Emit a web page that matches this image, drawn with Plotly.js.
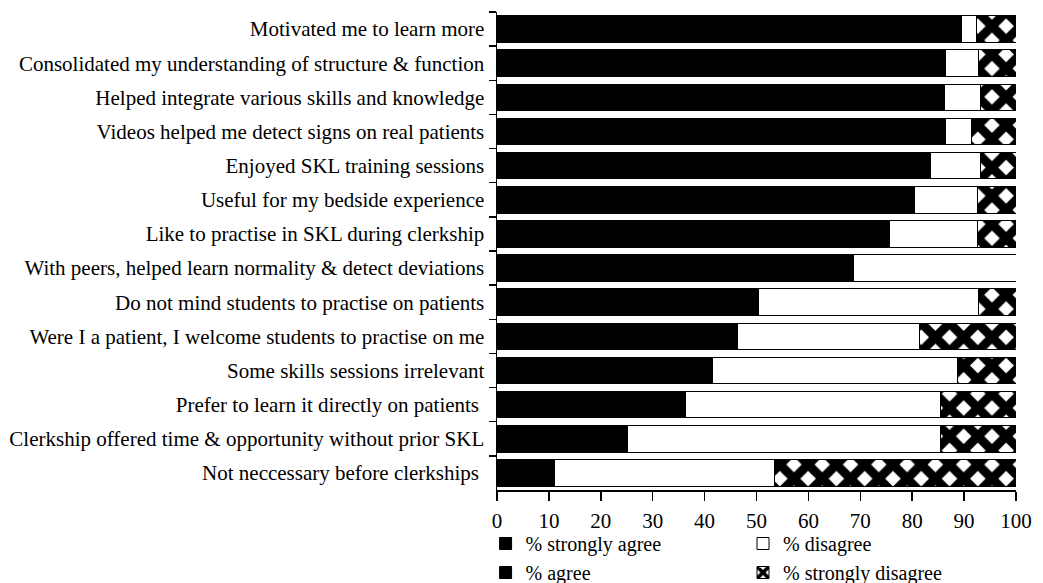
<!DOCTYPE html>
<html>
<head>
<meta charset="utf-8">
<script src="https://cdn.plot.ly/plotly-3.0.1.min.js"></script>
<style>html,body{margin:0;padding:0;background:#fff;}#chart{width:1043px;height:583px;}</style>
</head>
<body>
<div id="chart"></div>
<script>
const statements = [
  "Motivated me to learn more",
  "Consolidated my understanding of structure & function",
  "Helped integrate various skills and knowledge",
  "Videos helped me detect signs on real patients",
  "Enjoyed SKL training sessions",
  "Useful for my bedside experience",
  "Like to practise in SKL during clerkship",
  "With peers, helped learn normality & detect deviations",
  "Do not mind students to practise on patients",
  "Were I a patient, I welcome students to practise on me",
  "Some skills sessions irrelevant",
  "Prefer to learn it directly on patients ",
  "Clerkship offered time & opportunity without prior SKL",
  "Not neccessary before clerkships "
];
const stronglyAgree    = [32, 30, 28, 30, 35, 26, 25, 18, 10, 9, 8, 7, 5, 2];
const agree            = [57.5, 56.4, 58.3, 56.4, 48.6, 54.4, 50.6, 50.6, 40.4, 37.3, 33.6, 29.3, 20.2, 9.0];
const disagree         = [2.8, 6.4, 6.9, 5.1, 9.6, 12.1, 16.9, 31.4, 42.3, 35.1, 47.1, 49.1, 60.3, 42.5];
const stronglyDisagree = [7.7, 7.2, 6.8, 8.5, 6.8, 7.5, 7.5, 0, 7.3, 18.6, 11.3, 14.6, 14.5, 46.5];
const xTicks = [0, 10, 20, 30, 40, 50, 60, 70, 80, 90, 100];

const font = {family: "Liberation Serif, Times New Roman, serif", size: 21, color: "#000"};
const legFont = {family: "Liberation Serif, Times New Roman, serif", size: 20, color: "#000"};
const line = {color: "#000", width: 1};

const traces = [
  {name: "% strongly agree", x: stronglyAgree, legend: "legend",
   marker: {color: "#000", line: line}},
  {name: "% agree", x: agree, legend: "legend",
   marker: {color: "#000", line: line}},
  {name: "% disagree", x: disagree, legend: "legend2",
   marker: {color: "#fff", line: line}},
  {name: "% strongly disagree", x: stronglyDisagree, legend: "legend2",
   marker: {color: "#fff", line: line,
     pattern: {shape: "x", bgcolor: "#fff", fgcolor: "#000", size: 20, solidity: 0.7, fillmode: "replace"}}}
].map(t => Object.assign({type: "bar", orientation: "h", y: statements, hoverinfo: "x+name"}, t));

const legTop = 524;
const legBase = {font: legFont, bgcolor: "rgba(0,0,0,0)", yanchor: "top", xanchor: "left",
  xref: "paper", yref: "container", orientation: "v", traceorder: "normal", y: 1 - legTop / 583};
const layout = {
  width: 1043, height: 583,
  margin: {l: 497, r: 27, t: 12, b: 93},
  paper_bgcolor: "#fff", plot_bgcolor: "#fff",
  barmode: "stack", bargap: 0.22,
  font: font,
  xaxis: {range: [0, 100], tickvals: xTicks, ticktext: xTicks.map(String),
    showgrid: false, zeroline: false, showline: true, linecolor: "#000", linewidth: 1.5,
    ticks: "outside", ticklen: 9, tickwidth: 1.5, tickcolor: "#000", tickfont: font,
    ticklabelstandoff: 2},
  yaxis: {autorange: "reversed", showgrid: false, zeroline: false, showline: true,
    linecolor: "#000", linewidth: 1.5, ticks: "outside", tickson: "boundaries",
    ticklen: 7, tickwidth: 1.5, tickcolor: "#000", tickfont: font, ticklabelstandoff: 7},
  showlegend: true,
  legend:  Object.assign({x: -0.022}, legBase),
  legend2: Object.assign({x: 0.474}, legBase)
};
Plotly.newPlot("chart", traces, layout, {displayModeBar: false, staticPlot: true});
</script>
</body>
</html>
